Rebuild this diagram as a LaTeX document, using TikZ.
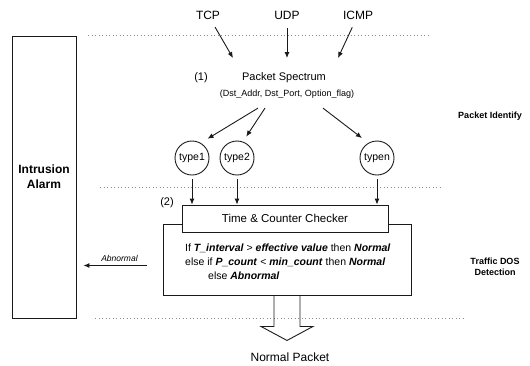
\documentclass[tikz,border=0pt]{standalone}
\usepackage{fontspec}
\setmainfont{Liberation Sans}
\usepackage{tikz}
\usetikzlibrary{arrows.meta,positioning,calc}
\definecolor{ln}{HTML}{1A1A1A}
\definecolor{sep}{HTML}{8C8C8C}
\newcommand{\Kw}[1]{\textbf{\textit{#1}}}
\newcommand{\Fs}[2]{\fontsize{#1}{#2}\selectfont}

\begin{document}
\begin{tikzpicture}[x=1pt,y=-1pt,
  arr/.style={-{Latex[length=6pt,width=5pt]},line width=0.9pt,draw=ln},
  box/.style={draw=ln,line width=0.9pt},
  sep/.style={draw=sep,line width=0.6pt,dash pattern=on 1pt off 2.5pt},
  typ/.style={box,circle,minimum size=34pt,inner sep=0pt,font=\Fs{10.5}{12}},
  lbl/.style={font=\Fs{11}{13}}]
  \useasboundingbox (0,0) rectangle (530,365);
  % layer separators
  \draw[sep] (88,35) -- (430,35);
  \draw[sep] (100,187) -- (440,187);
  \draw[sep] (95,318) -- (465,318);
  \node[box, minimum width=64pt, minimum height=282pt, align=center, font=\bfseries\Fs{12}{15}]
    (alarm) at (44,177) {Intrusion\\Alarm};
  % protocols
  \node[font=\Fs{12}{14}] (tcp) at (208,15) {TCP};
  \node[font=\Fs{12}{14}] (udp) at (287,15) {UDP};
  \node[font=\Fs{12}{14}] (icmp) at (358,15) {ICMP};
  \coordinate (tcpin) at (233,58);
  \coordinate (udpin) at (287,58);
  \coordinate (icmpin) at (338,58);
  \draw[arr, shorten <=5pt] (tcp) -- (tcpin);
  \draw[arr, shorten <=5pt] (udp) -- (udpin);
  \draw[arr, shorten <=5pt] (icmp) -- (icmpin);
  % (1) packet spectrum
  \node[lbl] (one) at (201,78) {(1)};
  \node[lbl] (spec) at (284,78) {Packet Spectrum};
  \node[font=\Fs{9}{11}, below=0pt of spec, xshift=3pt] (fields) {(Dst\_Addr, Dst\_Port, Option\_flag)};
  \node[typ] (t1) at (192,158) {type1};
  \node[typ] (t2) at (237,158) {type2};
  \node[typ] (tn) at (377,158) {typen};
  \coordinate (o1) at ($(fields.south)+(-29,6)$);
  \coordinate (o2) at ($(fields.south)+(-22,6)$);
  \coordinate (on) at ($(fields.south)+(36,6)$);
  \draw[arr, shorten >=8pt] (o1) -- (t1.60);
  \draw[arr, shorten >=6pt] (o2) -- (t2.70);
  \draw[arr, shorten >=8pt] (on) -- (tn.120);
  % (2) checker
  \node[lbl] (two) at (167,203) {(2)};
  \node[box, minimum width=248pt, minimum height=71pt] (rules) at (287,259.5) {};
  \node[box, fill=white, minimum width=206pt, minimum height=27pt, font=\Fs{11.5}{13}]
    (chk) at (285,218.5) {Time \& Counter Checker};
  \draw[arr, shorten <=4pt] (t1) -- (t1 |- chk.north);
  \draw[arr, shorten <=4pt] (t2) -- (t2 |- chk.north);
  \draw[arr, shorten <=4pt] (tn) -- (tn |- chk.north);
  \node[anchor=west, align=left, inner sep=0pt, font=\Fs{10.5}{14}] (cond) at (185,262) {%
    If \Kw{T\_interval} > \Kw{effective value} then \Kw{Normal}\\
    else if \Kw{P\_count} < \Kw{min\_count} then \Kw{Normal}\\
    \hspace*{23pt}else \Kw{Abnormal}};
  \coordinate (ab) at ($(rules.west)+(0,6)$);
  \draw[arr, shorten <=16pt, shorten >=7pt] (ab) -- (ab -| alarm.east)
    node[midway, above, font=\itshape\Fs{8.5}{10}] (abn) {Abnormal};
  % output
  \draw[box] ($(rules.south)+(-13,0)$) -- ++(0,31) -- ++(-13,0) -- ++(26,14)
    -- ++(26,-14) -- ++(-13,0) -- ++(0,-31);
  \node[font=\Fs{12}{14}] (normal) at (290,357) {Normal Packet};
  % layer names
  \node[font=\bfseries\Fs{9}{11}] (ident) at (490,116) {Packet Identify};
  \node[font=\bfseries\Fs{9}{10.5}, align=center] (dos) at (495,267) {Traffic DOS\\Detection};
\end{tikzpicture}
\end{document}
